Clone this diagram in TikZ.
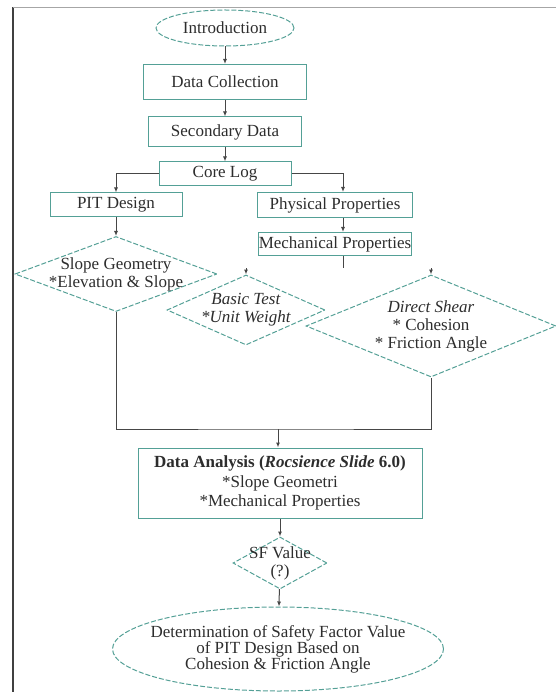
\documentclass[tikz,border=0pt]{standalone}
\usepackage{fontspec}
\setmainfont{Liberation Serif}
\usetikzlibrary{shapes.geometric,arrows.meta}
\definecolor{boxline}{RGB}{84,160,150}
\definecolor{linkline}{RGB}{70,70,70}
\definecolor{textgray}{RGB}{45,45,45}

\begin{document}
\begin{tikzpicture}[x=1pt,y=-1pt,
  every node/.style={font=\fontsize{17}{18}\selectfont, text=textgray, align=center},
  stagebox/.style={draw=boxline, line width=1pt, rectangle, inner sep=0pt},
  checkbox/.style={draw=boxline, line width=1pt, dash pattern=on 5pt off 2pt, diamond, inner sep=0pt},
  endpoint/.style={draw=boxline, line width=1pt, dash pattern=on 5pt off 2pt, ellipse, inner sep=0pt},
  link/.style={draw=linkline, line width=1pt},
  arr/.style={link, -{Latex[length=5pt,width=4pt]}}]
\useasboundingbox (0,0) rectangle (556,692);
% Draw the page frame
\draw[line width=2pt, color=black!75] (13,7) -- (13,692);
\draw[line width=0.8pt, color=black!35] (13,7) -- (556,7);
% Main column
\node[endpoint, minimum width=138, minimum height=36] (intro) at (225,28) {Introduction};
\node[stagebox, minimum width=163, minimum height=35] (collect) at (225,82) {Data Collection};
\node[stagebox, minimum width=153, minimum height=30] (secondary) at (225,132) {Secondary Data};
\node[stagebox, minimum width=132, minimum height=24] (corelog) at (225,174) {Core Log};
% Two branches
\node[stagebox, minimum width=132, minimum height=24] (pit) at (116,205) {PIT Design};
\node[stagebox, minimum width=155, minimum height=25] (physical) at (335,205) {Physical Properties};
\node[stagebox, minimum width=153, minimum height=23] (mechanical) at (335,244) {Mechanical Properties};
% Tests
\node[checkbox, shape aspect=2.69, inner xsep=-4pt, inner ysep=-5pt, minimum width=202, minimum height=75] (slope) at (116,274) {Slope Geometry\\{*}Elevation \& Slope};
\node[checkbox, shape aspect=2.26, inner sep=-2pt, minimum width=158, minimum height=70] (basic) at (246,310) {\textit{Basic Test}\\\textit{*Unit Weight}};
\node[checkbox, shape aspect=2.47, minimum width=250, minimum height=102] (shear) at (431,326) {\textit{Direct Shear}\\{*} Cohesion\\{*} Friction Angle};
% Analysis and result
\node[stagebox, font=\fontsize{17}{19.5}\selectfont, minimum width=284, minimum height=70] (analysis) at (280,483) {\textbf{Data Analysis (\textit{Rocsience Slide} 6.0)}\\{*}Slope Geometri\\{*}Mechanical Properties};
\node[checkbox, shape aspect=1.8, inner xsep=-2pt, inner ysep=-8pt, minimum width=94, minimum height=52] (sf) at (280,563) {SF Value\\(?)};
\node[endpoint, font=\fontsize{17}{16}\selectfont, inner xsep=-11pt, inner ysep=0pt, minimum width=331, minimum height=84] (final) at (278,649) {Determination of Safety Factor Value\\of PIT Design Based on\\Cohesion \& Friction Angle};
% Arrows down the main column
\draw[arr] (intro) -- (collect);
\draw[arr] (collect) -- (secondary);
\draw[arr] (secondary) -- (corelog);
% Split from the core log
\draw[arr] (corelog.west) -| (pit.north);
\draw[arr] (corelog.east) -| ([xshift=8pt]physical.north);
\draw[arr] ([xshift=8pt]physical.south) -- ([xshift=8pt]mechanical.north);
\draw[arr] (pit) -- (slope);
% Loose ends round the tests
\coordinate (mechend) at (343,268);
\coordinate (basicin) at (246,268);
\coordinate (shearin) at (431,268);
\draw[link] (mechend |- mechanical.south) -- (mechend);
\draw[arr] (basicin) -- (basic.north);
\draw[arr] (shearin) -- (shear.north);
% Join the branches into the analysis
\coordinate (join) at (278,429);
\draw[link] (slope.south) |- (join) -| (shear.south);
\draw[arr] (join) -- (join |- analysis.north);
\draw[arr] (analysis) -- (sf);
\draw[arr] (sf) -- (final);
\end{tikzpicture}
\end{document}
